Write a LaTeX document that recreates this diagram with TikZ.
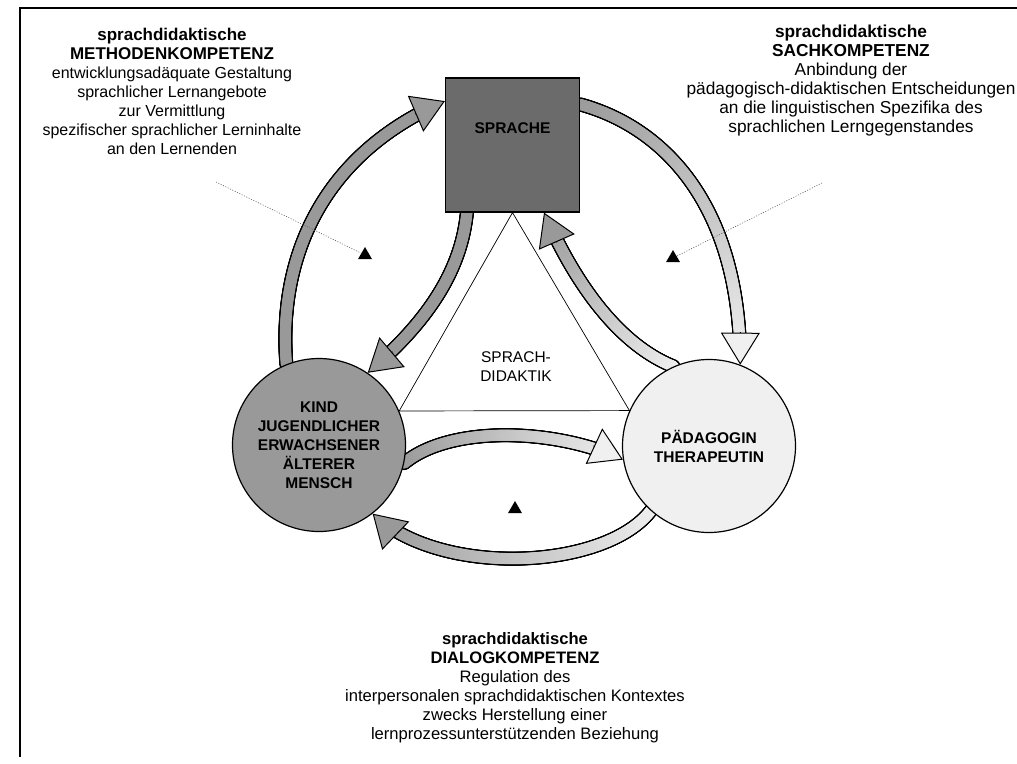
\documentclass[tikz,border=0pt]{standalone}
\usepackage{fontspec}
\setmainfont{Liberation Sans}
\usetikzlibrary{calc, arrows.meta, decorations.markings, backgrounds, shapes.geometric}

\colorlet{sprgrau}{black!58}
\colorlet{kindgrau}{black!40}
\colorlet{paedhell}{black!6}

% breiter Pfeil mit Farbverlauf: Start, Kontrollpunkt 1, Kontrollpunkt 2, Ziel, Startfarbe, Zielfarbe
\newcommand{\bandpfeil}[6]{%
  \path[decorate, decoration={markings, mark=between positions 0 and -32pt step 0.7pt with {%
      \fill[black] (0,0) circle (7pt);}}] (#1) .. controls (#2) and (#3) .. (#4);
  \path[decorate, decoration={markings, mark=between positions 0 and -32pt step 0.7pt with {%
      \pgfmathsetmacro\strecke{\pgfkeysvalueof{/pgf/decoration/mark info/distance from start}/\pgfdecoratedpathlength}%
      \pgfmathtruncatemacro\anteil{100-100*\strecke}%
      \fill[#5!\anteil!#6] (0,0) circle (5.6pt);}}] (#1) .. controls (#2) and (#3) .. (#4);
  \draw[line width=1pt, -{Triangle[length=32pt, width=39pt, fill=#6, line width=1pt]}] ($(#4)!32.5pt!(#3)$) -- (#4);
}

\begin{document}
\begin{tikzpicture}[x=1pt, y=-1pt,
			every node/.style={font=\fontsize{16}{19}\selectfont},
			kreis/.style={circle, draw, line width=1.2pt, minimum size=173pt, inner sep=0pt, align=center, font=\fontsize{15.5}{19}\selectfont\bfseries},
			feld/.style={draw, line width=1.2pt, minimum size=134pt, inner sep=0pt},
			block/.style={align=center, inner sep=0pt},
			kopf/.style={font=\fontsize{17}{19}\selectfont\bfseries},
			marke/.style={regular polygon, regular polygon sides=3, fill=black, inner sep=0pt, minimum size=16pt},
			zeiger/.style={black!65, line width=0.6pt, dash pattern=on 1pt off 1.6pt},
			]
			\useasboundingbox (0,0) rectangle (1017,763);
			
			% Rahmen
			\draw[line width=1.2pt] (20,757) -- (20,8) -- (1017,8);
			
			% Hauptknoten
			\node[feld, fill=sprgrau] (Sprache) at (512.5,145) {};
			\node[font=\fontsize{15.5}{19}\selectfont\bfseries] (SpracheText) at ($(Sprache.center)+(0,-17)$) {SPRACHE};
			\node[kreis, fill=kindgrau] (Kind) at (319,445) {KIND\\JUGENDLICHER\\ERWACHSENER\\ÄLTERER\\MENSCH};
			\node[kreis, fill=paedhell] (Paed) at (709,446) {PÄDAGOGIN\\THERAPEUTIN};
			
			% Dreieck
			\draw[line width=0.7pt] (Sprache.south) -- (Kind.23) -- (Paed.156) -- cycle;
			\node[align=center, font=\fontsize{15.5}{19}\selectfont] (Didaktik) at (516,367) {SPRACH-\\DIDAKTIK};
			
			% Texte
			\node[block] (Methode) at (172,91) {{\bfseries\fontsize{17}{19}\selectfont sprachdidaktische}\\{\bfseries\fontsize{17}{19}\selectfont METHODENKOMPETENZ}\\entwicklungsadäquate Gestaltung\\sprachlicher Lernangebote\\zur Vermittlung\\spezifischer sprachlicher Lerninhalte\\an den Lernenden};
			\node[block, font=\fontsize{17.3}{19}\selectfont] (Sache) at (851,81) {\textbf{sprachdidaktische}\\\textbf{SACHKOMPETENZ}\\Anbindung der\\pädagogisch-didaktischen Entscheidungen\\an die linguistischen Spezifika des\\sprachlichen Lerngegenstandes};
			\node[block, font=\fontsize{16.6}{19}\selectfont] (Dialog) at (515,688) {\textbf{sprachdidaktische}\\\textbf{DIALOGKOMPETENZ}\\Regulation des\\interpersonalen sprachdidaktischen Kontextes\\zwecks Herstellung einer\\lernprozessunterstützenden Beziehung};
			
			% Marken
			\node[marke] (MarkeL) at (365,255) {};
			\node[marke] (MarkeR) at (673,258) {};
			\node[marke] (MarkeU) at (515,509) {};
			\coordinate (ZeigerL) at (216,182);
			\coordinate (ZeigerR) at (822,183);
			\draw[zeiger] (ZeigerL) -- (MarkeL);
			\draw[zeiger] (ZeigerR) -- (MarkeR);
			
			% Pfeile
			\begin{scope}[on background layer]
				\bandpfeil{Kind.112}{278,260}{320,155}{Sprache.147}{kindgrau}{kindgrau}
				\bandpfeil{Sprache.236}{462,262}{437,314}{Kind.56}{kindgrau}{kindgrau}
				\bandpfeil{Sprache.31}{670,129}{741,213}{Paed.69}{kindgrau}{paedhell}
				\bandpfeil{Paed.114}{620,345}{576,286}{Sprache.295}{paedhell}{kindgrau}
				\bandpfeil{Kind.348}{450,425}{555,428}{Paed.189}{kindgrau}{paedhell}
				\bandpfeil{Paed.228}{605,570}{440,578}{Kind.308}{paedhell}{kindgrau}
			\end{scope}
			
		\end{tikzpicture}
\end{document}
